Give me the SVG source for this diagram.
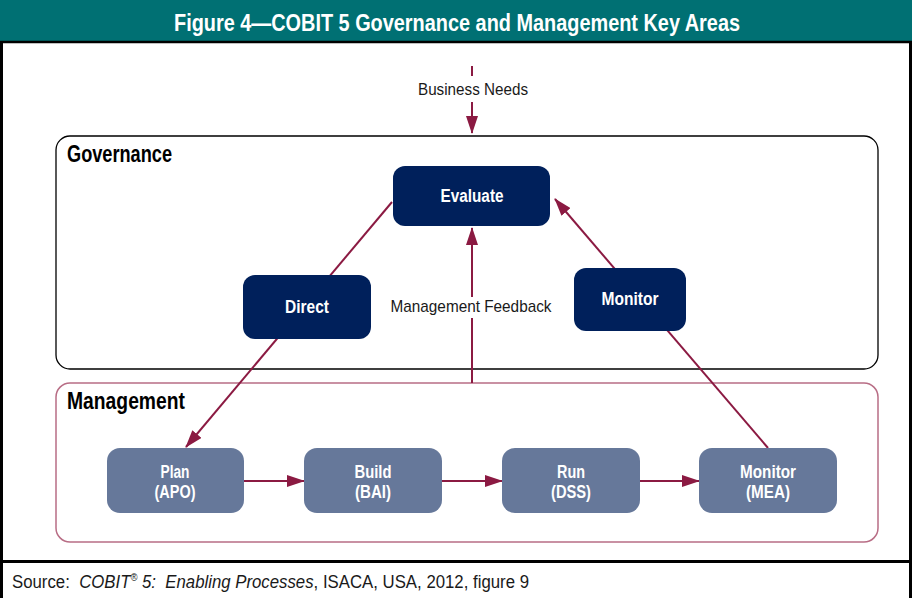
<svg xmlns="http://www.w3.org/2000/svg" width="912" height="598" viewBox="0 0 912 598">
<style>
text{font-family:"Liberation Sans",Arial,sans-serif}
.gov{fill:#00205b}
.mgt{fill:#66789a}
.nl{fill:#fff;font-weight:bold;font-size:18px;text-anchor:middle}
.lbl{fill:#1a1a1a;font-size:17px;text-anchor:middle}
.hd{fill:#000;font-weight:bold;font-size:23px}
.c{stroke:#8b1a42;stroke-width:2;fill:none}
</style>
<defs>
<marker id="ah" viewBox="0 0 18 12" refX="17" refY="6" markerWidth="18" markerHeight="12" markerUnits="userSpaceOnUse" orient="auto">
<path d="M0,0 L18,6 L0,12 Z" fill="#8b1a42"/>
</marker>
</defs>
<rect x="0" y="0" width="912" height="598" fill="#fff"/>
<rect x="0" y="0" width="912" height="41" fill="#007073"/>
<line x1="0" y1="42" x2="912" y2="42" stroke="#000" stroke-width="2.5"/>
<line x1="1.5" y1="42" x2="1.5" y2="598" stroke="#000" stroke-width="3"/>
<line x1="910.5" y1="42" x2="910.5" y2="598" stroke="#000" stroke-width="3"/>
<line x1="0" y1="561.5" x2="912" y2="561.5" stroke="#000" stroke-width="3"/>
<text x="457" y="31" fill="#fff" font-weight="bold" font-size="24" text-anchor="middle" textLength="566" lengthAdjust="spacingAndGlyphs">Figure 4—COBIT 5 Governance and Management Key Areas</text>
<text x="12" y="588" fill="#1a1a1a" font-size="18" textLength="517" lengthAdjust="spacingAndGlyphs" xml:space="preserve">Source:  <tspan font-style="italic">COBIT<tspan font-size="10" dy="-7">®</tspan><tspan dy="7"> 5:  Enabling Processes</tspan></tspan>, ISACA, USA, 2012, figure 9</text>

<g id="governance">
<rect x="56" y="136" width="822" height="233" rx="14" fill="none" stroke="#000" stroke-width="1.3"/>
<text class="hd" x="67" y="162" textLength="105" lengthAdjust="spacingAndGlyphs">Governance</text>
</g>
<g id="management">
<rect x="56" y="383" width="822" height="159" rx="14" fill="none" stroke="#b86d85" stroke-width="1.5"/>
<text class="hd" x="67" y="409" textLength="118" lengthAdjust="spacingAndGlyphs">Management</text>
</g>

<g id="connectors">
<line class="c" x1="472" y1="66" x2="472" y2="76"/>
<line class="c" x1="472" y1="102" x2="472" y2="133" marker-end="url(#ah)"/>
<text class="lbl" x="473" y="95" textLength="110" lengthAdjust="spacingAndGlyphs">Business Needs</text>
<line class="c" x1="472" y1="383" x2="472" y2="318"/>
<line class="c" x1="472" y1="297" x2="472" y2="228" marker-end="url(#ah)"/>
<text class="lbl" x="471" y="312" textLength="161" lengthAdjust="spacingAndGlyphs">Management Feedback</text>
<line class="c" x1="392" y1="202" x2="186" y2="447" marker-end="url(#ah)"/>
<line class="c" x1="768" y1="448" x2="555" y2="199" marker-end="url(#ah)"/>
<line class="c" x1="244" y1="481" x2="304" y2="481" marker-end="url(#ah)"/>
<line class="c" x1="442" y1="481" x2="502" y2="481" marker-end="url(#ah)"/>
<line class="c" x1="640" y1="481" x2="699" y2="481" marker-end="url(#ah)"/>
</g>

<g id="evaluate">
<rect class="gov" x="393" y="166" width="157" height="60" rx="12"/>
<text class="nl" x="472" y="202" textLength="63" lengthAdjust="spacingAndGlyphs">Evaluate</text>
</g>
<g id="direct">
<rect class="gov" x="243" y="275" width="128" height="64" rx="12"/>
<text class="nl" x="307" y="313" textLength="44" lengthAdjust="spacingAndGlyphs">Direct</text>
</g>
<g id="monitor">
<rect class="gov" x="574" y="268" width="112" height="63" rx="12"/>
<text class="nl" x="630" y="305" textLength="57" lengthAdjust="spacingAndGlyphs">Monitor</text>
</g>
<g id="plan">
<rect class="mgt" x="107" y="448" width="137" height="65" rx="13"/>
<text class="nl" x="175" y="478" textLength="29" lengthAdjust="spacingAndGlyphs">Plan</text>
<text class="nl" x="175" y="498" textLength="41" lengthAdjust="spacingAndGlyphs">(APO)</text>
</g>
<g id="build">
<rect class="mgt" x="304" y="448" width="138" height="65" rx="13"/>
<text class="nl" x="373" y="478" textLength="37" lengthAdjust="spacingAndGlyphs">Build</text>
<text class="nl" x="373" y="498" textLength="36" lengthAdjust="spacingAndGlyphs">(BAI)</text>
</g>
<g id="run">
<rect class="mgt" x="502" y="448" width="138" height="65" rx="13"/>
<text class="nl" x="571" y="478" textLength="28" lengthAdjust="spacingAndGlyphs">Run</text>
<text class="nl" x="571" y="498" textLength="40" lengthAdjust="spacingAndGlyphs">(DSS)</text>
</g>
<g id="monitor-mea">
<rect class="mgt" x="699" y="448" width="138" height="65" rx="13"/>
<text class="nl" x="768" y="478" textLength="56" lengthAdjust="spacingAndGlyphs">Monitor</text>
<text class="nl" x="768" y="498" textLength="44" lengthAdjust="spacingAndGlyphs">(MEA)</text>
</g>
</svg>
